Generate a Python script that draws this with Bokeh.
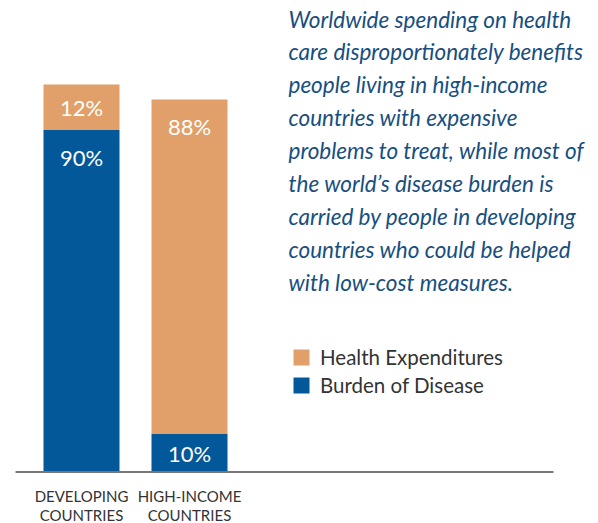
from bokeh.plotting import figure
from bokeh.models import Range1d, Legend, LegendItem, ColumnDataSource
from bokeh.embed import file_html
from bokeh.resources import INLINE
from bokeh.core.properties import value

# ---- data ----
categories = ["DEVELOPING\nCOUNTRIES", "HIGH-INCOME\nCOUNTRIES"]
burden_of_disease = [90, 10]
health_expenditures = [12, 88]
series_names = ["Health Expenditures", "Burden of Disease"]
note = ("Worldwide spending on health\n"
        "care disproportionately benefits\n"
        "people living in high-income\n"
        "countries with expensive\n"
        "problems to treat, while most of\n"
        "the world\u2019s disease burden is\n"
        "carried by people in developing\n"
        "countries who could be helped\n"
        "with low-cost measures.")

ORANGE = "#E1A069"
BLUE = "#03589A"
TEXT_BLUE = "#174F80"
GREY_TEXT = "#333333"
FONT = "Lato"

W, H = 598, 523
PX_PER_UNIT_X = 108.0
PX_PER_PCT = 3.8
BASE_PAGE_Y = 471.5
X0 = -81 / PX_PER_UNIT_X

def sx(px):
    return X0 + px / PX_PER_UNIT_X

def sy(py):
    return (BASE_PAGE_Y - py) / PX_PER_PCT

p = figure(width=W, height=H, output_backend="svg", toolbar_location=None,
           x_range=Range1d(X0, X0 + W / PX_PER_UNIT_X),
           y_range=Range1d(sy(H), sy(0)),
           x_axis_type=None, y_axis_type=None, min_border=0)
p.grid.visible = False
p.outline_line_color = None
p.background_fill_color = "white"

xs = list(range(len(categories)))
tops_exp = [b + e for b, e in zip(burden_of_disease, health_expenditures)]
src = ColumnDataSource(dict(
    x=xs, burden=burden_of_disease, exp=health_expenditures, top_exp=tops_exp,
    cat=categories,
    lab_b=[f"{v}%" for v in burden_of_disease],
    lab_e=[f"{v}%" for v in health_expenditures],
    y_lab_b=[b - min(b / 2, 7.2) for b in burden_of_disease],
    y_lab_e=[t - min(e / 2, 7.2) for t, e in zip(tops_exp, health_expenditures)],
))

BAR_W = 76 / PX_PER_UNIT_X
r_b = p.vbar(x="x", bottom=0, top="burden", width=BAR_W, source=src,
             fill_color=BLUE, line_color=None)
r_e = p.vbar(x="x", bottom="burden", top="top_exp", width=BAR_W, source=src,
             fill_color=ORANGE, line_color=None)

# baseline
p.segment(x0=sx(15), y0=0, x1=sx(553), y1=0, line_color="#777777", line_width=2)

# value labels
for col_y, col_t in (("y_lab_b", "lab_b"), ("y_lab_e", "lab_e")):
    p.text(x="x", y=col_y, text=col_t, source=src, text_color="white",
           text_font=value(FONT), text_font_size="22px",
           text_align="center", text_baseline="middle")

# category labels
p.text(x="x", y=0, text="cat", source=src, text_color=GREY_TEXT,
       text_font=value(FONT), text_font_size="15px", text_line_height=1.06,
       text_align="center", text_baseline="top", y_offset=15)

# note
p.text(x=[sx(288)], y=[sy(5)], text=[note], text_color=TEXT_BLUE,
       text_font=value(FONT), text_font_style="italic", text_font_size="22.5px",
       text_line_height=1.22, text_align="left", text_baseline="top")

legend = Legend(items=[LegendItem(label=series_names[0], renderers=[r_e]),
                       LegendItem(label=series_names[1], renderers=[r_b])],
                location=(291, H - 397), orientation="vertical",
                padding=0, margin=0, spacing=4,
                glyph_width=20, glyph_height=20, label_height=20,
                label_standoff=9, label_text_font=FONT,
                label_text_font_size="20.5px", label_text_color=GREY_TEXT,
                border_line_color=None, background_fill_alpha=0)
p.add_layout(legend, "center")

open("out.html", "w").write(file_html(p, INLINE))
